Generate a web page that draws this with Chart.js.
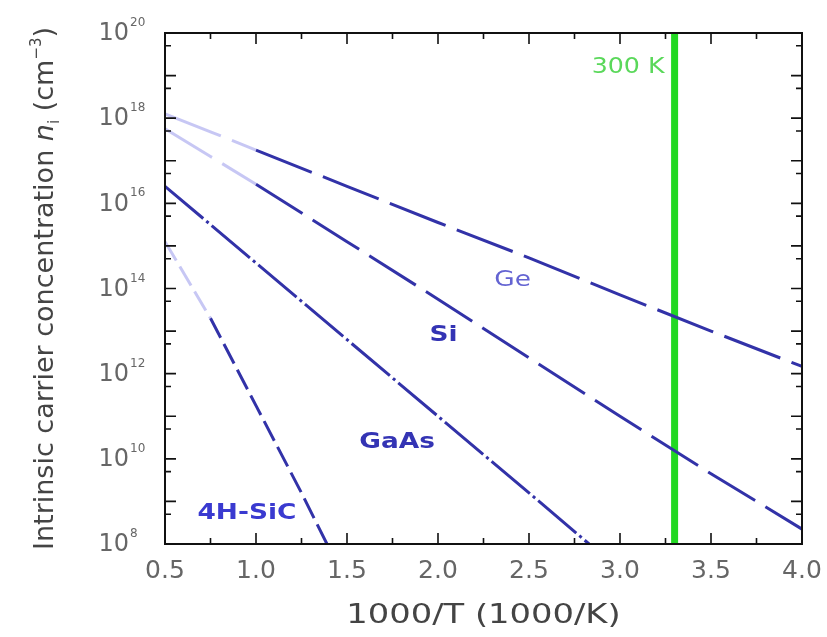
<!DOCTYPE html>
<html>
<head>
<meta charset="utf-8">
<script src="https://cdn.jsdelivr.net/npm/chart.js@4/dist/chart.umd.min.js"></script>
<style>
  html, body { margin: 0; padding: 0; background: #fff; }
</style>
</head>
<body>
<canvas id="myChart" width="827" height="637"></canvas>
<script>
// 1000/T values and log10(n_i)
let geX = [0.5, 0.75, 1.0, 1.5, 2.0, 2.5, 3.0, 3.5, 4.0];
let geLog = [18.1, 17.68, 17.25, 16.4, 15.55, 14.72, 13.85, 13.0, 12.17];

let siX = [0.5, 0.75, 1.0, 1.5, 2.0, 2.5, 3.0, 3.5, 4.0];
let siLog = [17.75, 17.1, 16.45, 15.1, 13.75, 12.37, 11.0, 9.65, 8.35];

let gaasX = [0.5, 0.75, 1.0, 1.5, 2.0, 2.5, 2.83];
let gaasLog = [16.4, 15.5, 14.6, 12.8, 11.0, 9.2, 8.0];

let sicX = [0.5, 0.75, 1.0, 1.25, 1.39];
let sicLog = [15.1, 13.3, 11.25, 9.2, 8.0];

let roomTemp = 3.3; // 1000/300 K

let xTickStep = 0.5;
let yTickExps = [8, 10, 12, 14, 16, 18, 20];

let lineColor = '#3232a8';
let fadedColor = 'rgba(130,130,230,0.45)';

// where the curve names sit (data coords)
let curveNames = [
    { text: 'Ge', x: 2.41, y: 14.2, bold: false, color: '#6464d2' },
    { text: 'Si', x: 2.03, y: 12.91, bold: true, color: '#3434b4' },
    { text: 'GaAs', x: 1.775, y: 10.38, bold: true, color: '#3434b4' },
    { text: '4H-SiC', x: 0.95, y: 8.73, bold: true, color: '#3a3ad0' }
];

function toPoints(xs, logs) {
    return xs.map((x, i) => ({ x: x, y: Math.pow(10, logs[i]) }));
}

function curve(name, xs, logs, dash, fadeUntil) {
    return {
        label: name,
        data: toPoints(xs, logs),
        borderColor: lineColor,
        borderWidth: 3,
        borderDash: dash,
        pointRadius: 0,
        tension: 0,
        segment: {
            borderColor: c => c.p1.parsed.x <= fadeUntil ? fadedColor : undefined
        }
    };
}

function stretchText(ctx, text, x, y, sx) {
    ctx.save();
    ctx.translate(x, y);
    ctx.scale(sx, 1);
    ctx.fillText(text, 0, 0);
    ctx.restore();
}

const framePlugin = {
    id: 'frame',
    afterDraw(chart) {
        const { ctx, chartArea: a, scales: { x, y } } = chart;
        ctx.save();

        // box
        ctx.strokeStyle = '#111';
        ctx.lineWidth = 2;
        ctx.strokeRect(a.left, a.top, a.right - a.left, a.bottom - a.top);

        // inward ticks, x
        ctx.lineWidth = 1.6;
        ctx.beginPath();
        x.ticks.forEach(t => {
            let px = x.getPixelForValue(t.value);
            ctx.moveTo(px, a.bottom); ctx.lineTo(px, a.bottom - 11);
            ctx.moveTo(px, a.top); ctx.lineTo(px, a.top + 11);
            let m = t.value + xTickStep / 2;
            if (m < x.max) {
                let pm = x.getPixelForValue(m);
                ctx.moveTo(pm, a.bottom); ctx.lineTo(pm, a.bottom - 6);
                ctx.moveTo(pm, a.top); ctx.lineTo(pm, a.top + 6);
            }
        });
        // inward ticks, y (each decade + 5x minor)
        for (let e = 8; e <= 20; e++) {
            let py = y.getPixelForValue(Math.pow(10, e));
            ctx.moveTo(a.left, py); ctx.lineTo(a.left + 11, py);
            ctx.moveTo(a.right, py); ctx.lineTo(a.right - 11, py);
            if (e > 8) {
                let pm = y.getPixelForValue(5 * Math.pow(10, e - 1));
                ctx.moveTo(a.left, pm); ctx.lineTo(a.left + 6, pm);
                ctx.moveTo(a.right, pm); ctx.lineTo(a.right - 6, pm);
            }
        }
        ctx.stroke();

        // y tick labels 10^n
        ctx.fillStyle = '#666';
        yTickExps.forEach(e => {
            let py = y.getPixelForValue(Math.pow(10, e));
            ctx.font = '24px "DejaVu Sans"';
            ctx.textAlign = 'right';
            ctx.textBaseline = 'middle';
            ctx.fillText('10', 129, py + 1);
            ctx.font = '12px "DejaVu Sans"';
            ctx.textAlign = 'left';
            ctx.fillText(String(e), 130, py - 10);
        });

        // curve names
        curveNames.forEach(n => {
            ctx.font = (n.bold ? 'bold ' : '') + '22px "DejaVu Sans"';
            ctx.fillStyle = n.color;
            ctx.textAlign = 'center';
            ctx.textBaseline = 'middle';
            stretchText(ctx, n.text, x.getPixelForValue(n.x), y.getPixelForValue(Math.pow(10, n.y)), 1.2);
        });

        // 300 K
        ctx.font = '22px "DejaVu Sans"';
        ctx.fillStyle = '#5ad85a';
        ctx.textAlign = 'right';
        ctx.textBaseline = 'middle';
        stretchText(ctx, '300 K', x.getPixelForValue(3.245), y.getPixelForValue(Math.pow(10, 19.2)), 1.15);

        // x title
        ctx.font = '27px "DejaVu Sans"';
        ctx.fillStyle = '#444';
        ctx.textAlign = 'center';
        ctx.textBaseline = 'alphabetic';
        stretchText(ctx, '1000/T (1000/K)', (a.left + a.right) / 2, 623, 1.25);

        // y title with subscript / superscript
        ctx.save();
        ctx.translate(53, (a.top + a.bottom) / 2);
        ctx.rotate(-Math.PI / 2);
        ctx.textAlign = 'left';
        ctx.textBaseline = 'alphabetic';
        let parts = [
            { t: 'Intrinsic carrier concentration ', f: '27px "DejaVu Sans"', dy: 0 },
            { t: 'n', f: 'italic 27px "DejaVu Sans"', dy: 0 },
            { t: 'i', f: '15px "DejaVu Sans"', dy: 6 },
            { t: ' (cm', f: '27px "DejaVu Sans"', dy: 0 },
            { t: '\u22123', f: '15px "DejaVu Sans"', dy: -12 },
            { t: ')', f: '27px "DejaVu Sans"', dy: 0 }
        ];
        let total = 0;
        parts.forEach(p => { ctx.font = p.f; p.w = ctx.measureText(p.t).width; total += p.w; });
        let cx = -total / 2;
        parts.forEach(p => {
            ctx.font = p.f;
            ctx.fillText(p.t, cx, p.dy);
            cx += p.w;
        });
        ctx.restore();

        ctx.restore();
    }
};

let myChart = new Chart(document.getElementById('myChart'), {
    type: 'line',
    data: {
        datasets: [
            curve('Ge', geX, geLog, [60, 12], 1.0),
            curve('Si', siX, siLog, [55, 12], 1.0),
            curve('GaAs', gaasX, gaasLog, [50, 4, 3, 4], 0),
            curve('4H-SiC', sicX, sicLog, [22, 7], 0.75),
            {
                label: '300 K',
                data: [{ x: roomTemp, y: 1e8 }, { x: roomTemp, y: 1e20 }],
                borderColor: '#22d822',
                borderWidth: 7,
                pointRadius: 0
            }
        ]
    },
    options: {
        responsive: false,
        animation: false,
        devicePixelRatio: 1,
        layout: { autoPadding: false, padding: { top: 33, right: 25, left: 0, bottom: 0 } },
        plugins: {
            legend: { display: false },
            tooltip: { enabled: false }
        },
        scales: {
            x: {
                type: 'linear',
                min: 0.5,
                max: 4.0,
                ticks: {
                    stepSize: xTickStep,
                    callback: v => v.toFixed(1),
                    font: { family: 'DejaVu Sans', size: 25 },
                    color: '#666',
                    padding: 12,
                    maxRotation: 0
                },
                grid: { display: false, drawTicks: false },
                border: { display: false },
                afterFit: s => { s.height = 93; s.paddingLeft = 0; s.paddingRight = 0; }
            },
            y: {
                type: 'logarithmic',
                min: 1e8,
                max: 1e20,
                ticks: { display: false },
                grid: { display: false, drawTicks: false },
                border: { display: false },
                afterFit: s => { s.width = 165; }
            }
        }
    },
    plugins: [framePlugin]
});
</script>
</body>
</html>
